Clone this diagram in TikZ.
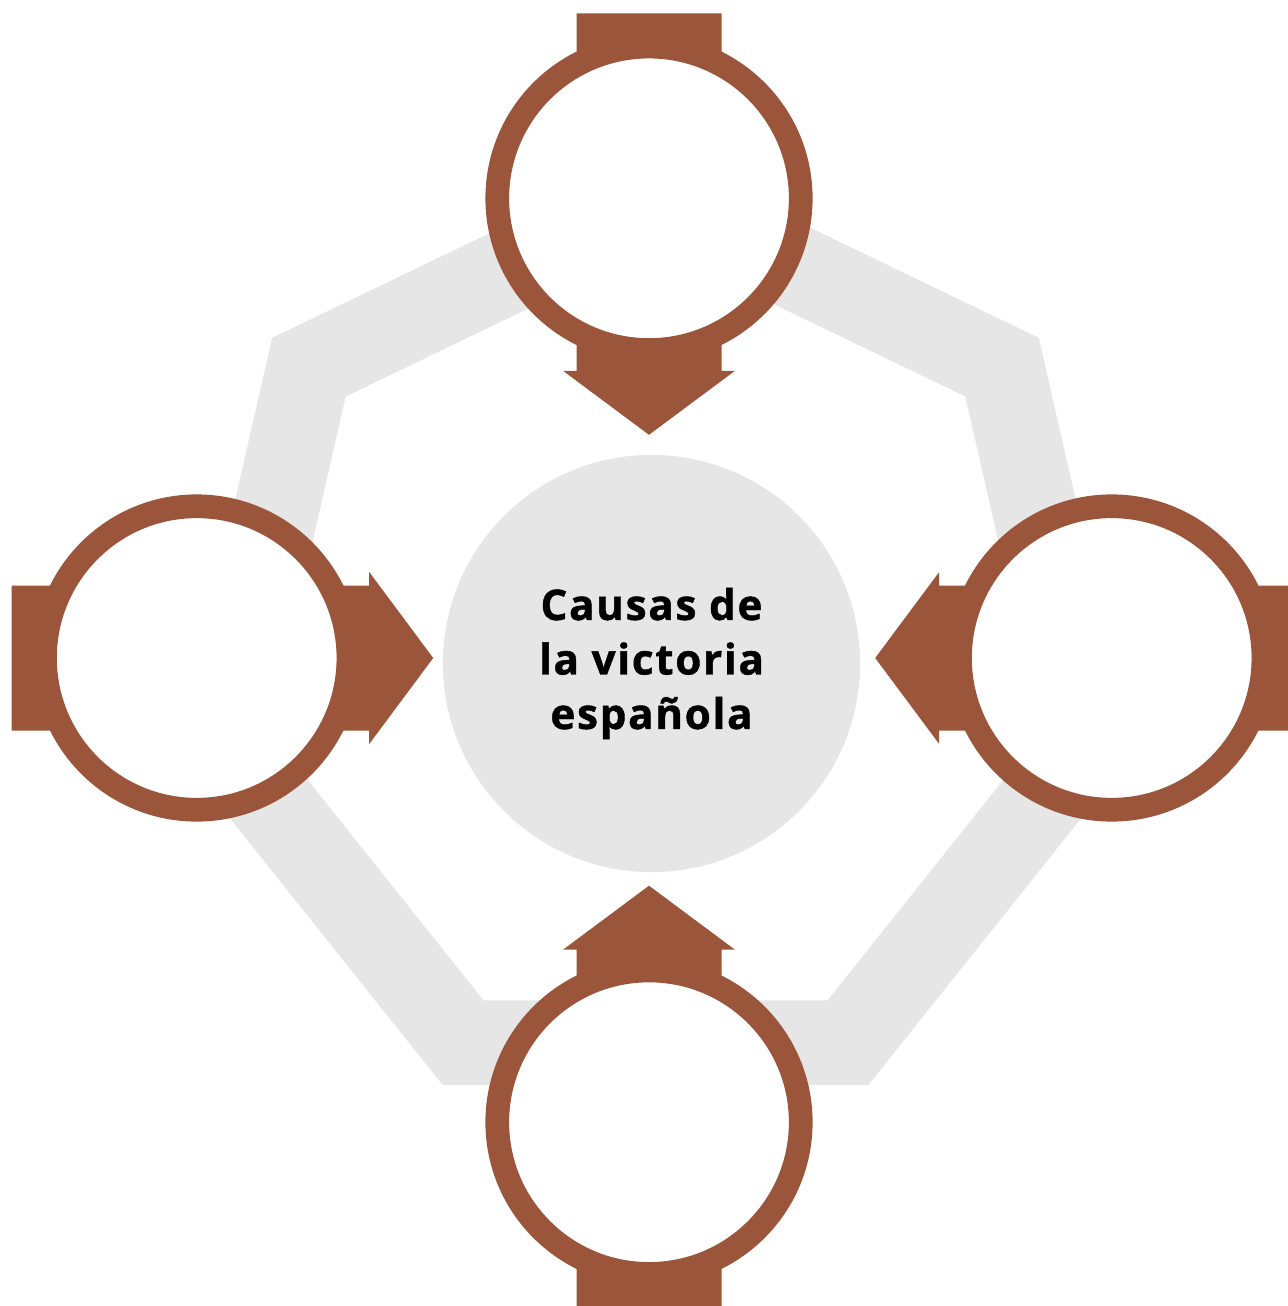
\documentclass[tikz,border=0pt]{standalone}
\usepackage{fontspec}
\setmainfont{Open Sans}
\usetikzlibrary{shapes.geometric, positioning}
\definecolor{causebrown}{RGB}{154,85,58}
\definecolor{bandgray}{RGB}{230,230,230}
\begin{document}
\begin{tikzpicture}[x=0.01cm, y=-0.01cm,
    band/.style={regular polygon, regular polygon sides=7, draw=bandgray, line width=0.847cm, minimum size=8.86cm, inner sep=0pt},
    hub/.style={circle, fill=bandgray, minimum size=4.17cm, inner sep=0pt, align=center,
      font=\fontsize{12}{15.5}\selectfont\bfseries\addfontfeatures{LetterSpace=4,FakeBold=1}},
    ring/.style={circle, draw=causebrown, line width=0.237cm, fill=white, minimum size=3.033cm, inner sep=0pt}]
  \path[use as bounding box, clip] (0,0) rectangle (1288,1306);
  \node[band] (heptagon) at (655.5,643.5) {};
  \node[hub] (causas) at (651.5,663.5) {Causas de\\la victoria\\española};
  \coordinate (t) at (649,198.3);
  \coordinate (l) at (196.7,658);
  \coordinate (r) at (1111.7,658);
  \coordinate (b) at (649,1122.2);
  \foreach \c/\a in {t/-90, l/0, r/180, b/90}
    \fill[causebrown, shift={(\c)}, rotate=\a] (-185,-72.5) -- (172.5,-72.5) -- (172.5,-86) -- (236.5,0)
      -- (172.5,86) -- (172.5,72.5) -- (-185,72.5) -- cycle;
  \node[ring] (top) at (t) {};
  \node[ring] (left) at (l) {};
  \node[ring] (right) at (r) {};
  \node[ring] (bottom) at (b) {};
\end{tikzpicture}
\end{document}
